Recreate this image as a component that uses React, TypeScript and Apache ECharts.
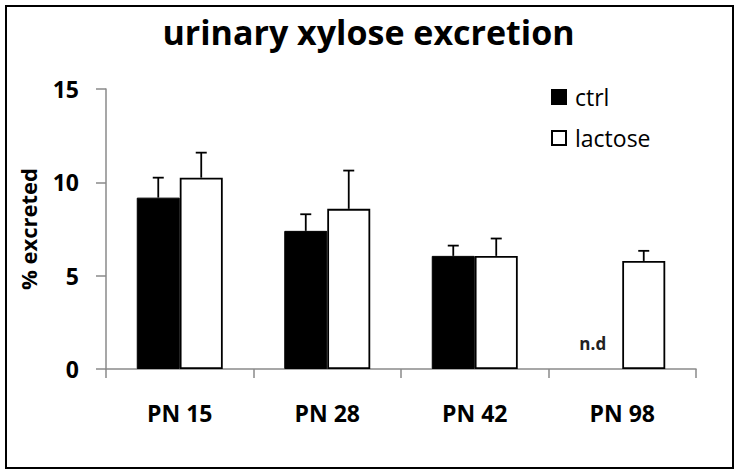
import React, { useEffect, useRef } from "react";
import * as echarts from "echarts";

const categories = ["PN 15", "PN 28", "PN 42", "PN 98"];
const ctrlValues: (number | null)[] = [9.18, 7.4, 6.06, null];
const ctrlErrors: (number | null)[] = [1.07, 0.89, 0.55, null];
const lactoseValues = [10.25, 8.58, 6.06, 5.79];
const lactoseErrors = [1.34, 2.05, 0.93, 0.54];
const yTicks = { min: 0, max: 15, interval: 5 };
const notDetected = [{ index: 3, text: "n.d" }];

const FONT = "'Open Sans', 'Noto Sans', sans-serif";
const BAR_OFFSET = 0.1457; // fraction of band width from category centre to bar centre

export default function App() {
  const ref = useRef<HTMLDivElement>(null);
  useEffect(() => {
    if (!ref.current) return;
    const chart = echarts.init(ref.current, undefined, { renderer: "svg" });

    const errData = (vals: (number | null)[], errs: (number | null)[]) =>
      vals
        .map((v, i) => (v == null || errs[i] == null ? null : [i, v, errs[i]]))
        .filter((d) => d !== null);

    const makeErrRender = (sign: number) => (params: any, api: any) => {
      const x = api.value(0);
      const y = api.value(1);
      const e = api.value(2);
      const base = api.coord([x, y]);
      const top = api.coord([x, y + e]);
      const band = api.size([1, 0])[0];
      const cx = base[0] + sign * BAR_OFFSET * band;
      const style = { stroke: "#000", lineWidth: 1.8 };
      return {
        type: "group",
        children: [
          { type: "line", shape: { x1: cx, y1: base[1], x2: cx, y2: top[1] }, style },
          { type: "line", shape: { x1: cx - 5.5, y1: top[1], x2: cx + 5.5, y2: top[1] }, style },
        ],
      };
    };

    const option: any = {
      animation: false,
      backgroundColor: "#fff",
      title: {
        text: "urinary xylose excretion",
        left: "center",
        top: 10,
        textStyle: { fontFamily: FONT, fontSize: 34, fontWeight: "bold", color: "#000" },
      },
      legend: {
        data: ["ctrl", "lactose"],
        orient: "vertical",
        left: 551,
        top: 83,
        padding: 0,
        itemWidth: 14,
        itemHeight: 14,
        itemGap: 13,
        icon: "rect",
        textStyle: {
          fontFamily: FONT,
          fontSize: 23,
          color: "#000",
          lineHeight: 28,
          padding: [0, 0, 0, 4],
        },
      },
      grid: { left: 106, right: 41, top: 89, bottom: 107 },
      xAxis: {
        type: "category",
        data: categories,
        axisLine: { lineStyle: { color: "#8a8a8a", width: 1.5 } },
        axisTick: { show: true, length: 9, lineStyle: { color: "#8a8a8a", width: 1.5 } },
        axisLabel: {
          margin: 32,
          fontFamily: FONT,
          fontSize: 23,
          fontWeight: "bold",
          color: "#000",
        },
      },
      yAxis: {
        type: "value",
        min: yTicks.min,
        max: yTicks.max,
        interval: yTicks.interval,
        name: "% excreted",
        nameLocation: "middle",
        nameRotate: 90,
        nameGap: 67,
        nameTextStyle: { fontFamily: FONT, fontSize: 22, fontWeight: "bold", color: "#000" },
        splitLine: { show: false },
        axisLine: { show: true, lineStyle: { color: "#8a8a8a", width: 1.5 } },
        axisTick: { show: true, length: 10, lineStyle: { color: "#8a8a8a", width: 1.5 } },
        axisLabel: {
          margin: 27,
          fontFamily: FONT,
          fontSize: 23,
          fontWeight: "bold",
          color: "#000",
        },
      },
      series: [
        {
          name: "ctrl",
          type: "bar",
          data: ctrlValues,
          barGap: "0%",
          barCategoryGap: "41.7%",
          itemStyle: { color: "#000", borderColor: "#000", borderWidth: 1 },
        },
        {
          name: "lactose",
          type: "bar",
          data: lactoseValues,
          barGap: "0%",
          barCategoryGap: "41.7%",
          itemStyle: { color: "#fff", borderColor: "#000", borderWidth: 1.8 },
        },
        {
          name: "ctrl error",
          type: "custom",
          data: errData(ctrlValues, ctrlErrors),
          renderItem: makeErrRender(-1),
          z: 5,
          silent: true,
        },
        {
          name: "lactose error",
          type: "custom",
          data: errData(lactoseValues, lactoseErrors),
          renderItem: makeErrRender(1),
          z: 5,
          silent: true,
        },
        {
          name: "nd",
          type: "custom",
          data: notDetected.map((d) => [d.index, 0]),
          renderItem: (params: any, api: any) => {
            const p = api.coord([api.value(0), api.value(1)]);
            const band = api.size([1, 0])[0];
            return {
              type: "text",
              x: p[0] - BAR_OFFSET * band - 8,
              y: p[1] - 26,
              style: {
                text: notDetected[params.dataIndex].text,
                fontFamily: FONT,
                fontSize: 17,
                fontWeight: "bold",
                fill: "#222",
                align: "center",
                verticalAlign: "middle",
              },
            };
          },
          z: 5,
          silent: true,
        },
      ],
      graphic: [
        {
          type: "rect",
          shape: { x: 6, y: 6, width: 727, height: 462 },
          style: { fill: "none", stroke: "#000", lineWidth: 2 },
          silent: true,
          z: 100,
        },
      ],
    };

    chart.setOption(option);
    return () => chart.dispose();
  }, []);

  return (
    <div
      ref={ref}
      style={{ position: "fixed", left: 0, top: 0, width: 737, height: 476 }}
    />
  );
}
